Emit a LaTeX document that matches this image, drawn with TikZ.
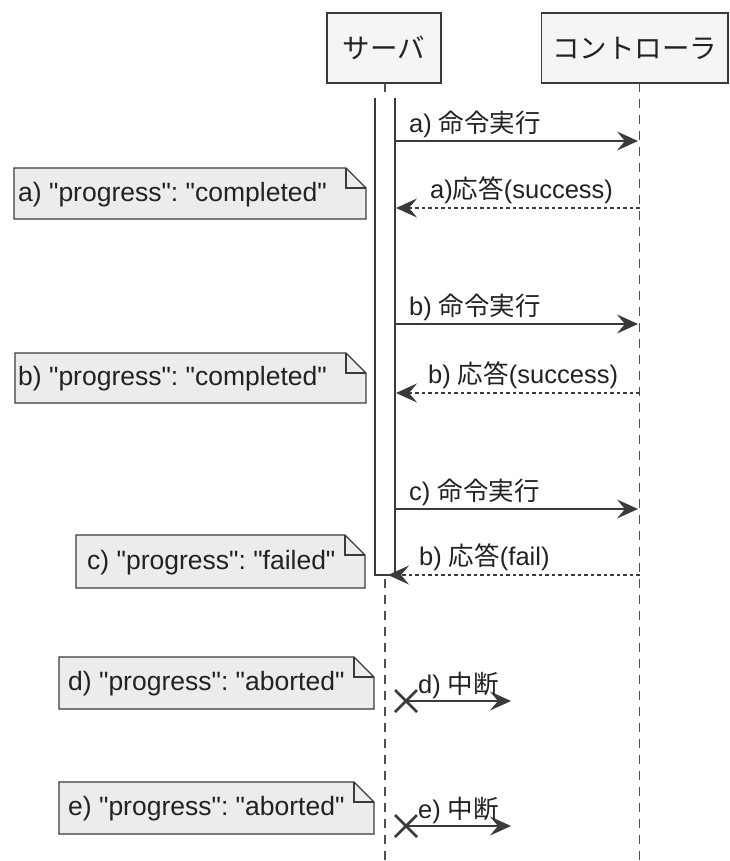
\documentclass[tikz,border=0pt]{standalone}
\usepackage{fontspec}
\setmainfont{Liberation Sans}[Ligatures=TeXOff]
\newfontfamily\cjk{Noto Sans CJK JP}
\usetikzlibrary{arrows.meta}
\frenchspacing

\definecolor{linec}{HTML}{3A3A3A}
\definecolor{notefill}{HTML}{ECECEC}
\definecolor{partfill}{HTML}{F5F5F5}
\definecolor{lifec}{HTML}{505050}
\definecolor{txt}{HTML}{222222}

\newcommand\drawnote[7]{%
  \draw[notebox] (#2,#3) -- (#4-20,#3) -- (#4,#3+20) -- (#4,#5) -- (#2,#5) -- cycle;
  \draw[notebox, fill=none] (#4-20,#3) -- (#4-20,#3+20) -- (#4,#3+20);
  \node[notetext] (#1) at (#6,{(#3+#5)/2+1}) {#7};
}

\begin{document}
\frenchspacing
\begin{tikzpicture}[x=1pt,y=-1pt,
  lbl/.style={anchor=west,inner sep=0pt,text=txt,font=\fontsize{25.5}{28}\selectfont},
  notetext/.style={anchor=west,inner sep=0pt,text=txt,font=\fontsize{26.5}{30}\selectfont},
  part/.style={draw=linec,line width=1.8pt,fill=partfill,inner sep=0pt,text=txt,font=\fontsize{27.5}{30}\selectfont\cjk},
  lifeline/.style={draw=lifec,line width=1.3pt,dash pattern=on 9pt off 7pt},
  callarrow/.style={draw=linec,line width=1.6pt,-{Stealth[length=21pt,width=19pt,inset=8pt]}},
  retarrow/.style={callarrow,dash pattern=on 3.5pt off 3pt},
  notebox/.style={draw=linec,line width=1.4pt,fill=notefill},
  crossmark/.style={draw=linec,line width=2.6pt},
]
\fill[white] (0,0) rectangle (729,861);
\useasboundingbox (0,0) rectangle (729,861);

% participants
\node[part,minimum width=114pt,minimum height=70pt] (srv) at (384,48) {サーバ};
\node[part,minimum width=186.5pt,minimum height=70pt] (ctl) at (634.75,48) {コントローラ};

% lifelines
\coordinate (srvTop) at (385,83);
\coordinate (srvEnd) at (385,861);
\coordinate (ctlTop) at (639.5,83);
\coordinate (ctlEnd) at (639.5,861);
\draw[lifeline] (srvTop) -- (srvEnd);
\draw[lifeline] (ctlTop) -- (ctlEnd);

% activation bar
\fill[white] (375,98) rectangle (395,575);
\draw[linec,line width=1.6pt] (375,98) -- (375,575) -- (395,575) -- (395,98);

% a)
\coordinate (a1s) at (395,141);
\coordinate (a1e) at (638,141);
\draw[callarrow] (a1s) -- (a1e);
\node[lbl] (a1l) at (409,124) {a) {\cjk 命令実行}};
\coordinate (a2s) at (639.5,208);
\coordinate (a2e) at (396,208);
\draw[retarrow] (a2s) -- (a2e);
\node[lbl] (a2l) at (430,190) {a){\cjk 応答}(success)};

% b)
\coordinate (b1s) at (395,324);
\coordinate (b1e) at (638,324);
\draw[callarrow] (b1s) -- (b1e);
\node[lbl] (b1l) at (409,307) {b) {\cjk 命令実行}};
\coordinate (b2s) at (639.5,393);
\coordinate (b2e) at (396,393);
\draw[retarrow] (b2s) -- (b2e);
\node[lbl] (b2l) at (428,375) {b) {\cjk 応答}(success)};

% c)
\coordinate (c1s) at (395,509);
\coordinate (c1e) at (638,509);
\draw[callarrow] (c1s) -- (c1e);
\node[lbl] (c1l) at (409,492) {c) {\cjk 命令実行}};
\coordinate (c2s) at (639.5,575);
\coordinate (c2e) at (388,575);
\draw[retarrow] (c2s) -- (c2e);
\node[lbl] (c2l) at (419,557) {b) {\cjk 応答}(fail)};

% d)
\coordinate (d1s) at (406,701);
\coordinate (d1e) at (511,701);
\draw[crossmark] (395,690) -- (417,712) (395,712) -- (417,690);
\draw[callarrow] (d1s) -- (d1e);
\node[lbl] (d1l) at (418,685) {d) {\cjk 中断}};

% e)
\coordinate (e1s) at (406,826);
\coordinate (e1e) at (511,826);
\draw[crossmark] (395,815) -- (417,837) (395,837) -- (417,815);
\draw[callarrow] (e1s) -- (e1e);
\node[lbl] (e1l) at (418,810) {e) {\cjk 中断}};

% notes
\drawnote{na}{14}{168}{366}{219}{18}{a) "progress": "completed"}
\drawnote{nb}{15}{353}{366}{403}{18}{b) "progress": "completed"}
\drawnote{nc}{76}{535}{365}{588}{87}{c) "progress": "failed"}
\drawnote{nd}{59}{657}{374}{709}{68}{d) "progress": "aborted"}
\drawnote{ne}{59}{782}{374}{834}{68}{e) "progress": "aborted"}
\end{tikzpicture}
\end{document}
